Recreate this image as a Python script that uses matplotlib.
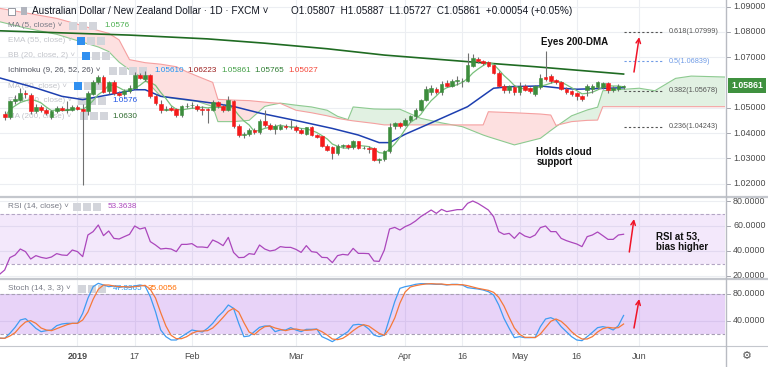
import numpy as np
import pandas as pd
import matplotlib
matplotlib.use("Agg")
import matplotlib.pyplot as plt
from matplotlib.patches import Rectangle
from matplotlib.lines import Line2D
from matplotlib.transforms import blended_transform_factory

plt.rcParams["font.family"] = ["Liberation Sans", "DejaVu Sans"]

W, H = 768, 367

# ---- values -----------------------------------------------------------
# daily bars, bar index 0 = 2 Jan 2019, first visible bar is index -14
first_bar = -14
opens = [1.0475, 1.0462, 1.0525, 1.0532, 1.0560, 1.0552, 1.0486, 1.0503, 1.0492, 1.0462,
         1.0485, 1.0498, 1.0491, 1.0490, 1.0502, 1.0495, 1.0485, 1.0555, 1.0600, 1.0621,
         1.0565, 1.0600, 1.0560, 1.0553, 1.0565, 1.0578, 1.0630, 1.0612, 1.0630, 1.0547,
         1.0516, 1.0492, 1.0498, 1.0494, 1.0472, 1.0505, 1.0510, 1.0508, 1.0494, 1.0493,
         1.0490, 1.0521, 1.0508, 1.0490, 1.0528, 1.0429, 1.0393, 1.0396, 1.0411, 1.0403,
         1.0449, 1.0430, 1.0416, 1.0415, 1.0426, 1.0424, 1.0424, 1.0411, 1.0398, 1.0422,
         1.0393, 1.0387, 1.0350, 1.0345, 1.0321, 1.0350, 1.0352, 1.0343, 1.0367, 1.0341,
         1.0342, 1.0341, 1.0295, 1.0296, 1.0328, 1.0426, 1.0439, 1.0433, 1.0453, 1.0466,
         1.0492, 1.0532, 1.0562, 1.0574, 1.0561, 1.0598, 1.0587, 1.0605, 1.0606, 1.0605,
         1.0666, 1.0694, 1.0685, 1.0679, 1.0668, 1.0639, 1.0587, 1.0568, 1.0582, 1.0561,
         1.0587, 1.0576, 1.0553, 1.0580, 1.0620, 1.0626, 1.0608, 1.0600, 1.0575, 1.0566,
         1.0558, 1.0547, 1.0571, 1.0575, 1.0580, 1.0582, 1.0596, 1.0568, 1.0572, 1.05807]
highs = [1.0485, 1.0530, 1.0552, 1.0578, 1.0570, 1.0558, 1.0515, 1.0512, 1.0500, 1.0490,
         1.0505, 1.0508, 1.0525, 1.0510, 1.0512, 1.0515, 1.0565, 1.0610, 1.0630, 1.0628,
         1.0605, 1.0608, 1.0565, 1.0575, 1.0590, 1.0640, 1.0638, 1.0645, 1.0635, 1.0555,
         1.0530, 1.0505, 1.0505, 1.0500, 1.0512, 1.0518, 1.0522, 1.0515, 1.0505, 1.0500,
         1.0530, 1.0528, 1.0515, 1.0545, 1.0532, 1.0435, 1.0402, 1.0418, 1.0420, 1.0455,
         1.0490, 1.0438, 1.0435, 1.0435, 1.0435, 1.0450, 1.0430, 1.0418, 1.0425, 1.0426,
         1.0398, 1.0390, 1.0355, 1.0350, 1.0355, 1.0358, 1.0356, 1.0372, 1.0370, 1.0348,
         1.0350, 1.0345, 1.0300, 1.0332, 1.0440, 1.0445, 1.0445, 1.0460, 1.0470, 1.0500,
         1.0535, 1.0585, 1.0590, 1.0582, 1.0605, 1.0608, 1.0612, 1.0625, 1.0618, 1.0717,
         1.0712, 1.0700, 1.0690, 1.0685, 1.0672, 1.0645, 1.0592, 1.0590, 1.0588, 1.0600,
         1.0595, 1.0580, 1.0590, 1.0632, 1.0726, 1.0632, 1.0615, 1.0605, 1.0580, 1.0570,
         1.0562, 1.0552, 1.0592, 1.0592, 1.0605, 1.0603, 1.0600, 1.0585, 1.0592, 1.05887]
lows = [1.0450, 1.0455, 1.0515, 1.0525, 1.0540, 1.0475, 1.0480, 1.0484, 1.0470, 1.0455,
        1.0478, 1.0485, 1.0480, 1.0485, 1.0490, 1.0195, 1.0470, 1.0550, 1.0595, 1.0558,
        1.0555, 1.0550, 1.0545, 1.0548, 1.0558, 1.0572, 1.0612, 1.0605, 1.0540, 1.0510,
        1.0480, 1.0485, 1.0485, 1.0462, 1.0465, 1.0498, 1.0500, 1.0488, 1.0470, 1.0440,
        1.0485, 1.0500, 1.0482, 1.0485, 1.0420, 1.0385, 1.0380, 1.0388, 1.0395, 1.0398,
        1.0425, 1.0410, 1.0395, 1.0410, 1.0415, 1.0415, 1.0405, 1.0395, 1.0392, 1.0388,
        1.0380, 1.0345, 1.0328, 1.0297, 1.0315, 1.0342, 1.0338, 1.0338, 1.0336, 1.0335,
        1.0320, 1.0290, 1.0282, 1.0290, 1.0322, 1.0415, 1.0420, 1.0428, 1.0445, 1.0455,
        1.0488, 1.0525, 1.0552, 1.0555, 1.0550, 1.0580, 1.0580, 1.0590, 1.0582, 1.0600,
        1.0660, 1.0678, 1.0670, 1.0660, 1.0632, 1.0580, 1.0560, 1.0560, 1.0552, 1.0552,
        1.0565, 1.0560, 1.0545, 1.0575, 1.0605, 1.0598, 1.0592, 1.0568, 1.0555, 1.0545,
        1.0530, 1.0528, 1.0545, 1.0560, 1.0575, 1.0575, 1.0560, 1.0562, 1.0565, 1.05727]
closes = [1.0462, 1.0525, 1.0535, 1.0560, 1.0555, 1.0486, 1.0503, 1.0490, 1.0479, 1.0485,
          1.0499, 1.0490, 1.0493, 1.0503, 1.0495, 1.0485, 1.0558, 1.0600, 1.0622, 1.0564,
          1.0600, 1.0558, 1.0551, 1.0567, 1.0578, 1.0630, 1.0617, 1.0630, 1.0547, 1.0518,
          1.0490, 1.0496, 1.0492, 1.0472, 1.0505, 1.0508, 1.0512, 1.0494, 1.0492, 1.0490,
          1.0523, 1.0508, 1.0490, 1.0530, 1.0429, 1.0393, 1.0396, 1.0411, 1.0403, 1.0449,
          1.0433, 1.0416, 1.0428, 1.0429, 1.0424, 1.0425, 1.0411, 1.0400, 1.0422, 1.0393,
          1.0384, 1.0350, 1.0334, 1.0321, 1.0350, 1.0351, 1.0343, 1.0367, 1.0341, 1.0342,
          1.0338, 1.0295, 1.0296, 1.0328, 1.0424, 1.0439, 1.0426, 1.0453, 1.0466, 1.0492,
          1.0529, 1.0574, 1.0578, 1.0561, 1.0595, 1.0587, 1.0604, 1.0608, 1.0607, 1.0670,
          1.0696, 1.0683, 1.0676, 1.0666, 1.0639, 1.0587, 1.0568, 1.0584, 1.0561, 1.0587,
          1.0571, 1.0566, 1.0584, 1.0617, 1.0613, 1.0604, 1.0600, 1.0574, 1.0562, 1.0555,
          1.0547, 1.0536, 1.0584, 1.0584, 1.0600, 1.0598, 1.0569, 1.0577, 1.0584, 1.05861]

# time axis labels and the bar index they sit on
tick_pos = [0, 11, 22, 42, 63, 74, 85, 96, 108]
tick_labels = ["2019", "17", "Feb", "Mar", "Apr", "16", "May", "16", "Jun"]

# MA 200 (dark green) and EMA (blue) line vertices
ma200_x = [-15, 10, 25, 36, 48, 59, 75, 88, 105]
ma200 = [1.0804, 1.0787, 1.0772, 1.0755, 1.0733, 1.0708, 1.0682, 1.0662, 1.0633]
ema_x = [-15, -8, -3, 1, 6, 11, 13, 16, 21, 26, 30, 35, 43, 49, 54, 58, 60, 63, 68,
         75, 80, 83, 89, 93, 96, 105]
ema = [1.0618, 1.0578, 1.0545, 1.0532, 1.0551, 1.0571, 1.0571, 1.0545, 1.0532, 1.0518,
       1.0505, 1.0479, 1.0445, 1.0418, 1.0392, 1.0362, 1.0362, 1.0395, 1.0440, 1.0504,
       1.0577, 1.0583, 1.0586, 1.0577, 1.0573, 1.0579]

# ichimoku cloud, leading span A (green edge) and B (red edge)
cloud_x = [-15, -10, -4, 0, 4, 6, 8, 10, 13, 16, 19, 21, 23, 26, 27, 30, 33, 36, 37, 39,
           42, 45, 48, 50, 52, 53, 57, 59, 62, 66, 70, 74, 78, 79, 84, 89, 91, 92, 95, 98,
           100, 101, 108, 111, 115, 118, 125]
span_a = [1.0840, 1.0815, 1.0790, 1.0765, 1.0740, 1.0722, 1.0680, 1.0650, 1.0611, 1.0545,
          1.0535, 1.0530, 1.0525, 1.0505, 1.0445, 1.0445, 1.0450, 1.0505, 1.0510, 1.0518,
          1.0510, 1.0503, 1.0490, 1.0466, 1.0453, 1.0503, 1.0495, 1.0494, 1.0494, 1.0458,
          1.0440, 1.0425, 1.0392, 1.0385, 1.0353, 1.0379, 1.0410, 1.0425, 1.0468, 1.0491,
          1.0502, 1.0567, 1.0577, 1.0567, 1.0616, 1.0625, 1.0621]
span_b = [1.0893, 1.0875, 1.0853, 1.0830, 1.0805, 1.0794, 1.0768, 1.0690, 1.0678, 1.0672,
          1.0662, 1.0642, 1.0625, 1.0600, 1.0533, 1.0530, 1.0528, 1.0522, 1.0520, 1.0517,
          1.0490, 1.0480, 1.0468, 1.0458, 1.0451, 1.0448, 1.0438, 1.0432, 1.0432, 1.0432,
          1.0432, 1.0432, 1.0432, 1.0484, 1.0480, 1.0475, 1.0471, 1.0430, 1.0445, 1.0450,
          1.0451, 1.0504, 1.0504, 1.0504, 1.0504, 1.0504, 1.0504]

# oscillators, first value sits on bar -15
osc_first = -15
rsi = [21.3, 24.8, 34.7, 36.8, 41.6, 39.5, 33.6, 36.3, 34.9, 34.1, 35.2, 37.9, 36.8, 36.5, 40.8,
       39.5, 35.5, 52.8, 55.5, 60.8, 52.3, 56.0, 50.1, 49.6, 51.5, 53.3, 60.0, 57.6, 58.7, 47.5,
       44.8, 41.6, 42.1, 41.6, 39.5, 45.3, 45.3, 45.9, 43.2, 43.2, 42.7, 48.8, 46.9, 44.3, 50.9,
       38.9, 34.7, 34.9, 37.9, 37.3, 44.8,
       41.6, 40.0, 40.8, 43.5, 42.9, 42.9, 41.3, 38.9, 44.3, 39.5, 38.9, 34.9, 34.7, 30.7, 36.3,
       37.3, 36.8, 42.1, 38.1, 38.1, 37.9, 32.0, 31.7, 40.8,
       57.6, 58.9, 56.8, 59.5, 61.3, 64.0, 67.5, 70.1, 72.8, 70.1, 73.3, 71.5, 72.3, 73.1, 73.1,
       78.1, 80.0, 78.1, 75.5, 72.8, 67.5, 55.5,
       53.3, 54.1, 50.1, 54.7, 52.0, 50.7, 52.8, 58.7, 60.0, 55.5, 55.5, 50.1, 48.3, 46.9, 45.6,
       43.5, 51.5, 52.8, 55.2, 52.3, 49.3, 49.3, 52.8, 53.4]
stoch_k = [13.5, 13.5, 21, 30, 41, 43, 36, 28.5, 23.5, 25, 26, 32.5, 35, 36, 36,
           36, 51, 73.5, 91, 96, 93.5, 91, 92, 90, 91, 90, 92, 93.5, 92, 76, 53.5, 26, 16, 11, 11,
           16, 21, 26, 24.5, 23, 28.5, 36, 46, 53.5, 63.5, 58.5, 36, 16, 17, 23.5, 30,
           32, 32, 23.5, 26, 26, 29.5, 26, 23.5, 27, 27, 27.5, 16, 12.5, 8.5, 13.5, 18.5, 23.5,
           33.5, 34.5, 33.5, 27.5, 18.5, 16, 18.5,
           43.5, 68.5, 88.5, 91, 92.5, 94.5, 95.5, 95.5, 95, 94.5, 94.5, 93.5, 94.5, 94.5, 93.5,
           89.5, 88.5, 87.5, 86, 83.5, 78.5, 63.5,
           43.5, 28.5, 14.5, 16, 14.5, 14.5, 15, 31, 42.5, 44.5, 41, 31, 23.5, 16, 11, 10, 16,
           22.5, 29.5, 31, 29.5, 26, 32.5, 47.8]
stoch_d = [14, 13.5, 17, 22, 31, 38, 40, 36, 29, 26, 25, 28, 31, 34, 36,
           36, 41, 53, 72, 87, 93.5, 93.5, 92, 91, 91, 90.5, 91, 92, 93, 87, 74, 52, 32, 18, 13,
           13, 16, 21, 24, 24.5, 25, 29, 36.5, 45, 54, 58.5, 53, 37, 23, 19, 26,
           31, 32, 29, 27, 25, 27, 27.5, 26, 25.5, 26, 27, 23.5, 18.5, 12.5, 11.5, 13.5, 18.5,
           25, 30.5, 34, 32, 26.5, 21, 18,
           28, 44, 66.5, 83, 90.5, 92.5, 94, 95, 95.5, 95, 95, 94, 94, 94, 94, 92.5, 90.5, 88.5,
           87, 85.5, 82.5, 75,
           62, 45, 29, 19.5, 15, 15, 14.5, 20, 29.5, 39, 42.5, 39, 32, 23.5, 17, 12.5, 12.5, 16,
           23, 28, 30, 29, 29.5, 35]

# fibonacci retracement levels
fib_ratio = ["0.618", "0.5", "0.382", "0.236"]
fib_price = [1.07999, 1.06839, 1.05678, 1.04243]
fib_color = ["#555555", "#6f9be6", "#555555", "#555555"]

price_ticks = [1.02, 1.03, 1.04, 1.05, 1.06, 1.07, 1.08, 1.09]
price_labels = [1.02, 1.03, 1.04, 1.05, 1.07, 1.08, 1.09]   # 1.06 is hidden by the price tag
rsi_ticks = [20, 40, 60, 80]
stoch_ticks = [40, 80]

# ---- figure ---------------------------------------------------------------
GREEN = "#3d8d3d"
RED = "#f51a1a"
WICK = "#707070"
AXCOL = "#4a4a4a"

fig = plt.figure(figsize=(W / 100, H / 100), dpi=100)
fig.patch.set_facecolor("white")


def pane(top, bottom):
    return fig.add_axes([0, 1 - bottom / H, 725 / W, (bottom - top) / H])


ax = pane(0, 196)
ax_rsi = pane(198, 278)
ax_st = pane(280, 346)

for a in (ax, ax_rsi, ax_st):
    a.set_xlim(-14.9, 124.5)
    a.set_xticks(tick_pos)
    a.tick_params(length=0, labelbottom=False, labelleft=False)
    for s in a.spines.values():
        s.set_visible(False)
    a.grid(True, color="#eceef2", lw=0.8)
    a.set_axisbelow(True)

ax.set_ylim(1.0151, 1.09257)
ax.set_yticks(price_ticks)
ax_rsi.set_ylim(18.4, 82.4)
ax_rsi.set_yticks(rsi_ticks)
ax_st.set_ylim(2, 101)
ax_st.set_yticks(stoch_ticks)


def ftext(a, xp, yp, s, size=5.9, color="#787b86", **kw):
    return a.text(xp / W, 1 - yp / H, s, transform=fig.transFigure, fontsize=size,
                  color=color, va="center", ha="left", zorder=2, **kw)


def icons(a, xp, yp, n, blue_first=False):
    for k in range(n):
        c = "#2f8ff0" if (blue_first and k == 0) else "#d3d5db"
        a.add_patch(Rectangle(((xp + k * 10) / W, 1 - (yp + 4) / H), 8 / W, 8 / H,
                              transform=fig.transFigure, facecolor=c, edgecolor="none",
                              zorder=2))


# cloud
ca, cb = np.array(span_a), np.array(span_b)
ax.fill_between(cloud_x, ca, cb, where=ca >= cb, interpolate=True, color="#e1f1e2", lw=0, zorder=1)
ax.fill_between(cloud_x, ca, cb, where=ca < cb, interpolate=True, color="#fde0e0", lw=0, zorder=1)
ax.plot(cloud_x, span_a, color="#8dca90", lw=0.8, zorder=2)
ax.plot(cloud_x, span_b, color="#f5a0a0", lw=0.8, zorder=2)

# moving averages
bars = np.arange(first_bar, first_bar + len(closes))
ma5 = pd.Series(closes).rolling(5, min_periods=1).mean()
ax.plot(ma200_x, ma200, color="#1f6b22", lw=1.2, zorder=3)
ax.plot(ema_x, ema, color="#1d3fb0", lw=1.1, zorder=3)
ax.plot(bars, ma5, color="#78c07b", lw=0.9, zorder=3)

# candles
o, hi, lo, c = map(np.array, (opens, highs, lows, closes))
cols = np.where(c >= o, GREEN, RED)
ax.vlines(bars, lo, hi, color=WICK, lw=0.8, zorder=4)
ax.bar(bars, np.maximum(np.abs(c - o), 0.00008), bottom=np.minimum(o, c), width=0.7,
       color=cols, edgecolor=cols, lw=0.4, zorder=5)

# fib levels
for r, p, col in zip(fib_ratio, fib_price, fib_color):
    ax.plot([105.1, 112.8], [p, p], color=col, lw=0.8, ls=(0, (2, 2)), zorder=3)
    ax.text(113.6, p, f"{r}({p:.5f})", fontsize=5.2, color=col, va="center", ha="left", zorder=6)

# annotations
ax.text(89.1, 1.0760, "Eyes 200-DMA", fontsize=7, fontweight="bold", color="#111111",
        va="center", ha="left", zorder=6)
ax.text(88.2, 1.0305, "Holds cloud\nsupport", fontsize=7, fontweight="bold", color="#111111",
        va="center", ha="left", linespacing=1.0, zorder=6)
arrow = dict(arrowstyle="->", color="#f01428", lw=1.1, shrinkA=0, shrinkB=0, mutation_scale=8)
ax.annotate("", xy=(108, 1.0779), xytext=(107, 1.0641), arrowprops=arrow, zorder=6)

# last price label
tr = blended_transform_factory(fig.transFigure, ax.transData)
ax.text(747 / W, closes[-1], f"{closes[-1]:.5f}", transform=tr, ha="center", va="center",
        fontsize=6.3, fontweight="bold", color="white", zorder=7,
        bbox=dict(boxstyle="square,pad=0.35", fc="#3f913f", ec="none"))

# legend rows of the price pane
ax.add_patch(Rectangle((8 / W, 1 - 14.5 / H), 7 / W, 7 / H, transform=fig.transFigure,
                       facecolor="white", edgecolor="#9598a1", lw=0.7, zorder=2))
ax.add_patch(Rectangle((21 / W, 1 - 15 / H), 6 / W, 8 / H, transform=fig.transFigure,
                       facecolor="#b2b5be", edgecolor="none", zorder=2))
ftext(ax, 32, 11, "Australian Dollar / New Zealand Dollar · 1D · FXCM ˅", size=7.2, color="#131722")
ftext(ax, 291, 11, "O1.05807  H1.05887  L1.05727  C1.05861  +0.00054 (+0.05%)", size=7.2,
      color="#131722")

ftext(ax, 7.7, 25.7, "MA (5, close) ˅")
icons(ax, 69, 25.7, 3)
ftext(ax, 104, 25.7, "1.0576", color="#4caf50")

ftext(ax, 7.7, 41, "EMA (55, close) ˅", color="#c3c5cb")
icons(ax, 77, 41, 3, blue_first=True)

ftext(ax, 7.7, 55.7, "BB (20, close, 2) ˅", color="#c3c5cb")
icons(ax, 82, 55.7, 3, blue_first=True)

ftext(ax, 7.7, 71, "Ichimoku (9, 26, 52, 26) ˅", color="#50535e")
icons(ax, 109, 71, 4)
ichi_vals = ["1.05610", "1.06223", "1.05861", "1.05765", "1.05027"]
ichi_cols = ["#2196f3", "#9b1c1c", "#43a047", "#2e7d32", "#f44336"]
ichi_xp = [154, 187.7, 221, 254, 288]
for v, col, xp in zip(ichi_vals, ichi_cols, ichi_xp):
    ftext(ax, xp, 71, v, color=col)

ftext(ax, 7.7, 86, "MA (50, close) ˅", color="#c3c5cb")
icons(ax, 74, 86, 3, blue_first=True)

ftext(ax, 7.7, 100.7, "EMA (20, close) ˅", color="#c3c5cb")
icons(ax, 78, 100.7, 3)
ftext(ax, 112.7, 100.7, "1.0576", color="#1e53e5")

ftext(ax, 7.7, 116, "MA (200, close) ˅", color="#c3c5cb")
icons(ax, 80, 116, 3)
ftext(ax, 112.7, 116, "1.0630", color="#2e6b2e")

# RSI pane
osc_x = np.arange(osc_first, osc_first + len(rsi))
ax_rsi.axhspan(30, 70, color="#8e24e0", alpha=0.1, lw=0, zorder=0.6)
for lvl in (30, 70):
    ax_rsi.axhline(lvl, color="#b3a6c4", lw=0.8, ls=(0, (3, 2)), zorder=1)
ax_rsi.plot(osc_x, rsi, color="#ab47bc", lw=0.9, zorder=3)
ftext(ax_rsi, 7.7, 207, "RSI (14, close) ˅")
icons(ax_rsi, 73, 207, 3)
ftext(ax_rsi, 108, 207, "53.3638", color="#ab47bc")
ax_rsi.text(111.2, 47.2, "RSI at 53,\nbias higher", fontsize=7, fontweight="bold",
            color="#111111", va="center", ha="left", linespacing=1.0, zorder=6)
ax_rsi.annotate("", xy=(107, 65.6), xytext=(106.1, 39.2), arrowprops=arrow, zorder=6)

# Stoch pane
ax_st.axhspan(20, 80, color="#8e24e0", alpha=0.2, lw=0, zorder=0.6)
for lvl in (20, 80):
    ax_st.axhline(lvl, color="#a79fb4", lw=0.8, ls=(0, (3, 2)), zorder=1)
ax_st.plot(osc_x, stoch_k, color="#3f9cf2", lw=0.9, zorder=3)
ax_st.plot(osc_x, stoch_d, color="#f5793a", lw=0.9, zorder=3)
ftext(ax_st, 7.7, 289, "Stoch (14, 3, 3) ˅")
icons(ax_st, 78, 289, 3)
ftext(ax_st, 113, 289, "47.8365", color="#2196f3")
ftext(ax_st, 147.7, 289, "35.0056", color="#ff6d00")
ax_st.annotate("", xy=(108, 72.5), xytext=(107, 29), arrowprops=arrow, zorder=6)

# right hand scale labels
for a, ticks, fmt in ((ax, price_labels, "{:.5f}"), (ax_rsi, rsi_ticks, "{:.4f}"),
                      (ax_st, stoch_ticks, "{:.4f}")):
    t = blended_transform_factory(fig.transFigure, a.transData)
    for v in ticks:
        a.text(733 / W, v, fmt.format(v), transform=t, fontsize=6.4, color=AXCOL,
               va="center", ha="left")
        a.add_line(Line2D([726 / W, 730 / W], [v, v], transform=t, color="#9598a1",
                          lw=0.6, clip_on=False))

# time axis labels
tb = blended_transform_factory(ax_st.transData, fig.transFigure)
for p, lab in zip(tick_pos, tick_labels):
    ax_st.text(p, 1 - 356.5 / H, lab, transform=tb, fontsize=6.5, color=AXCOL, ha="center",
               va="center", fontweight="bold" if lab == "2019" else "normal")
fig.text(747 / W, 1 - 356 / H, "⚙", fontsize=8, color="#555555", ha="center", va="center",
         family="DejaVu Sans")

# pane borders
for yp, lw in ((197, 1.6), (279, 1.6), (346, 0.8)):
    fig.add_artist(Line2D([0, 1], [1 - yp / H] * 2, transform=fig.transFigure,
                          color="#c4c7cd", lw=lw))
fig.add_artist(Line2D([725.7 / W] * 2, [0, 1], transform=fig.transFigure, color="#b8bbc2", lw=1))

fig.savefig("out.png", dpi=100, facecolor="white")
